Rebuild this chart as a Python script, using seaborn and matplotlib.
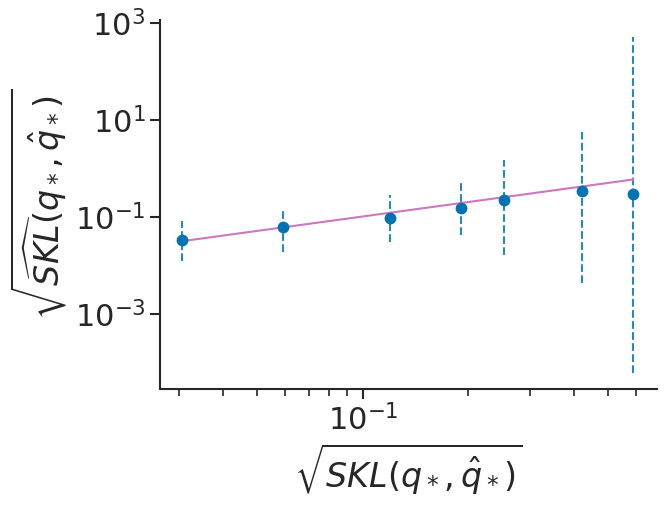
import matplotlib
matplotlib.use("Agg")
import matplotlib.pyplot as plt
import matplotlib.ticker as mticker
import seaborn as sns
import pandas as pd

# data
x_vals = [0.0305, 0.0593, 0.1196, 0.1906, 0.2517, 0.4220, 0.5890]
y_vals = [0.033, 0.0605, 0.097, 0.156, 0.228, 0.338, 0.303]
y_low = [0.0124, 0.019, 0.0306, 0.042, 0.0163, 0.00438, 6.1e-5]
y_high = [0.0827, 0.131, 0.280, 0.494, 1.47, 5.74, 509.0]
fit_x = [0.0305, 0.5890]
fit_y = [0.0316, 0.5890]

sns.set_theme(style="ticks", palette="colorblind")
pal = sns.color_palette("colorblind")

fig = plt.figure(figsize=(6.65, 5.07), dpi=100)
ax = fig.add_axes([0.2406, 0.2327, 0.9875 - 0.2406, 0.9606 - 0.2327])

df = pd.DataFrame({"x": x_vals, "y": y_vals, "lo": y_low, "hi": y_high})
fit_df = pd.DataFrame({"x": fit_x, "y": fit_y})

ax.vlines(df["x"], df["lo"], df["hi"], colors=[pal[0]], alpha=0.85,
          linestyles="dashed", linewidth=1.5, zorder=2)
sns.lineplot(data=fit_df, x="x", y="y", ax=ax, color=pal[4], linewidth=1.5, zorder=3)
sns.scatterplot(data=df, x="x", y="y", ax=ax, color=pal[0], s=72, linewidth=0, zorder=4)

ax.set_xscale("log")
ax.set_yscale("log")
ax.set_xlim(0.0264, 0.688)
ax.set_ylim(10**-4.545, 10**3.056)
ax.yaxis.set_major_locator(mticker.FixedLocator([1e-3, 1e-1, 1e1, 1e3]))
ax.yaxis.set_minor_locator(mticker.NullLocator())
ax.xaxis.set_major_locator(mticker.FixedLocator([1e-1]))
ax.xaxis.set_minor_locator(mticker.LogLocator(base=10, subs=range(2, 10), numticks=20))
ax.xaxis.set_minor_formatter(mticker.NullFormatter())

ax.tick_params(axis="both", which="major", labelsize=22, length=7, width=1.5)
ax.tick_params(axis="x", which="minor", length=5, width=1.2)
for s in ax.spines.values():
    s.set_linewidth(1.5)

ax.set_xlabel(r"$\sqrt{SKL(q_*,\hat{q}_*)}$", fontsize=24)
ax.set_ylabel(r"$\sqrt{\widehat{SKL}(q_*,\hat{q}_*)}$", fontsize=24)
sns.despine(ax=ax)

fig.savefig("out.png", dpi=100)
